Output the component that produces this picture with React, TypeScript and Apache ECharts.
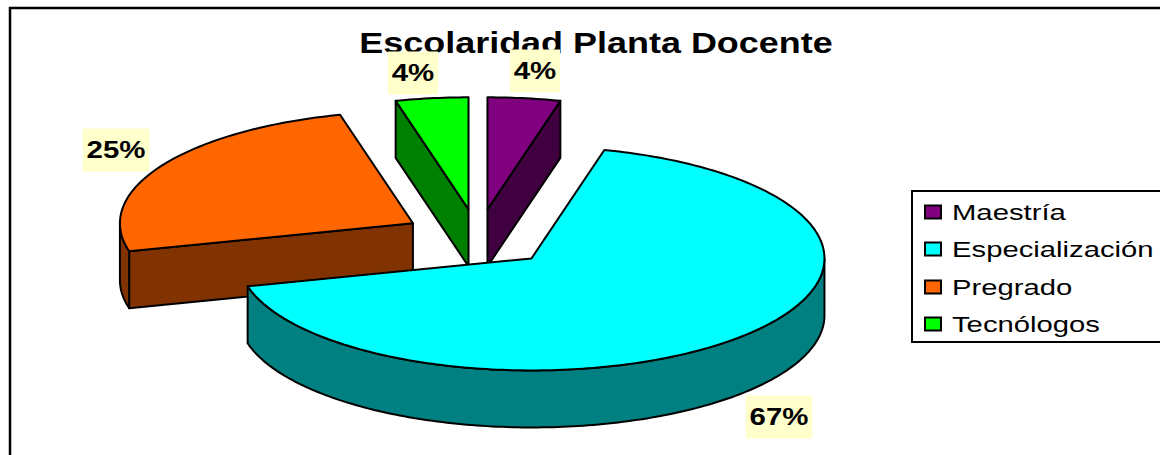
import React, { useEffect, useRef } from "react";
import * as echarts from "echarts";

const titleText = "Escolaridad Planta Docente";
const categories = ["Maestría", "Especialización", "Pregrado", "Tecnólogos"];
const values = [4, 67, 25, 4];
const topColors = ["#800080", "#00FFFF", "#FF6600", "#00FF00"];
const wallColors = ["#400040", "#008080", "#803300", "#008000"];
const labelCentres = [[535, 71], [779, 417], [116, 150], [413, 73]];
const drawOrder = [3, 0, 2, 1];
const legendRows = [212, 249, 287, 324];

const CX = 478, CY = 238, RX = 293, RY = 112, DEPTH = 57, EXPLODE = 0.258;
const FONT = '"Liberation Sans", Arial, sans-serif';
const total = values.reduce((a, b) => a + b, 0);

const rad = (d: number) => (d * Math.PI) / 180;

function arc(cx: number, cy: number, a0: number, a1: number, dy = 0) {
  const pts: number[][] = [];
  const n = Math.max(2, Math.ceil(Math.abs(a1 - a0)));
  for (let i = 0; i <= n; i++) {
    const t = rad(a0 + ((a1 - a0) * i) / n);
    pts.push([cx + RX * Math.sin(t), cy - RY * Math.cos(t) + dy]);
  }
  return pts;
}

function makeRender(index: number) {
  return (_p: any, api: any) => {
    const value = api.value(0);
    const before = values.slice(0, index).reduce((a, b) => a + b, 0);
    const a0 = (before / total) * 360;
    const a1 = a0 + (value / total) * 360;
    const mid = rad((a0 + a1) / 2);
    const cx = CX + EXPLODE * RX * Math.sin(mid);
    const cy = CY - EXPLODE * RY * Math.cos(mid);
    const wallStyle = { fill: wallColors[index], stroke: "#000", lineWidth: 2, lineJoin: "round" };
    const children: any[] = [];
    const radial = (a: number) => {
      const p = arc(cx, cy, a, a)[0];
      children.push({
        type: "polygon", z2: 1,
        shape: { points: [[cx, cy], p, [p[0], p[1] + DEPTH], [cx, cy + DEPTH]] },
        style: wallStyle,
      });
    };
    if (-Math.cos(rad(a0 - 90)) > 0.01) radial(a0);
    if (-Math.cos(rad(a1 + 90)) > 0.01) radial(a1);
    const f0 = Math.max(a0, 90), f1 = Math.min(a1, 270);
    if (f1 > f0) {
      children.push({
        type: "polygon", z2: 2,
        shape: { points: [...arc(cx, cy, f0, f1), ...arc(cx, cy, f0, f1, DEPTH).reverse()] },
        style: wallStyle,
      });
    }
    children.push({
      type: "polygon", z2: 3,
      shape: { points: [[cx, cy], ...arc(cx, cy, a0, a1)] },
      style: { fill: topColors[index], stroke: "#000", lineWidth: 2, lineJoin: "round" },
    });
    children.push({
      type: "text", z2: 10, zlevel: 0,
      x: labelCentres[index][0], y: labelCentres[index][1], scaleX: 1.28,
      style: {
        text: `${Math.round((value / total) * 100)}%`,
        font: `bold 23px ${FONT}`, fill: "#000",
        align: "center", verticalAlign: "middle",
        backgroundColor: "#FFFFCC", padding: [10, 3, 10, 3],
      },
    });
    return { type: "group", children };
  };
}

export default function App() {
  const ref = useRef<HTMLDivElement>(null);
  useEffect(() => {
    document.body.style.margin = "0";
    const chart = echarts.init(ref.current!, undefined, { renderer: "svg" });
    const legendItems: any[] = [];
    categories.forEach((name, i) => {
      legendItems.push({
        type: "rect", shape: { x: 925, y: legendRows[i] - 6.5, width: 16, height: 13 },
        style: { fill: topColors[i], stroke: "#000", lineWidth: 2 },
      });
      legendItems.push({
        type: "text", x: 952, y: legendRows[i], scaleX: 1.33,
        style: { text: name, font: `22px ${FONT}`, fill: "#000", align: "left", verticalAlign: "middle" },
      });
    });
    chart.setOption({
      animation: false,
      backgroundColor: "#fff",
      tooltip: { show: false },
      graphic: {
        elements: [
          {
            type: "rect", shape: { x: 10, y: 8, width: 1170, height: 470 },
            style: { fill: "#fff", stroke: "#000", lineWidth: 2.5 },
          },
          {
            type: "text", x: 596, y: 43, scaleX: 1.24,
            style: { text: titleText, font: `bold 29px ${FONT}`, fill: "#000", align: "center", verticalAlign: "middle" },
          },
          {
            type: "rect", shape: { x: 912, y: 191, width: 270, height: 151 },
            style: { fill: "#fff", stroke: "#000", lineWidth: 2 },
          },
          ...legendItems,
        ],
      },
      series: drawOrder.map((i, order) => ({
        type: "custom",
        name: categories[i],
        coordinateSystem: "none",
        z: 5 + order,
        silent: true,
        clip: false,
        data: [[values[i]]],
        renderItem: makeRender(i),
      })),
    });
    return () => chart.dispose();
  }, []);
  return <div ref={ref} style={{ width: 1160, height: 455 }} />;
}
